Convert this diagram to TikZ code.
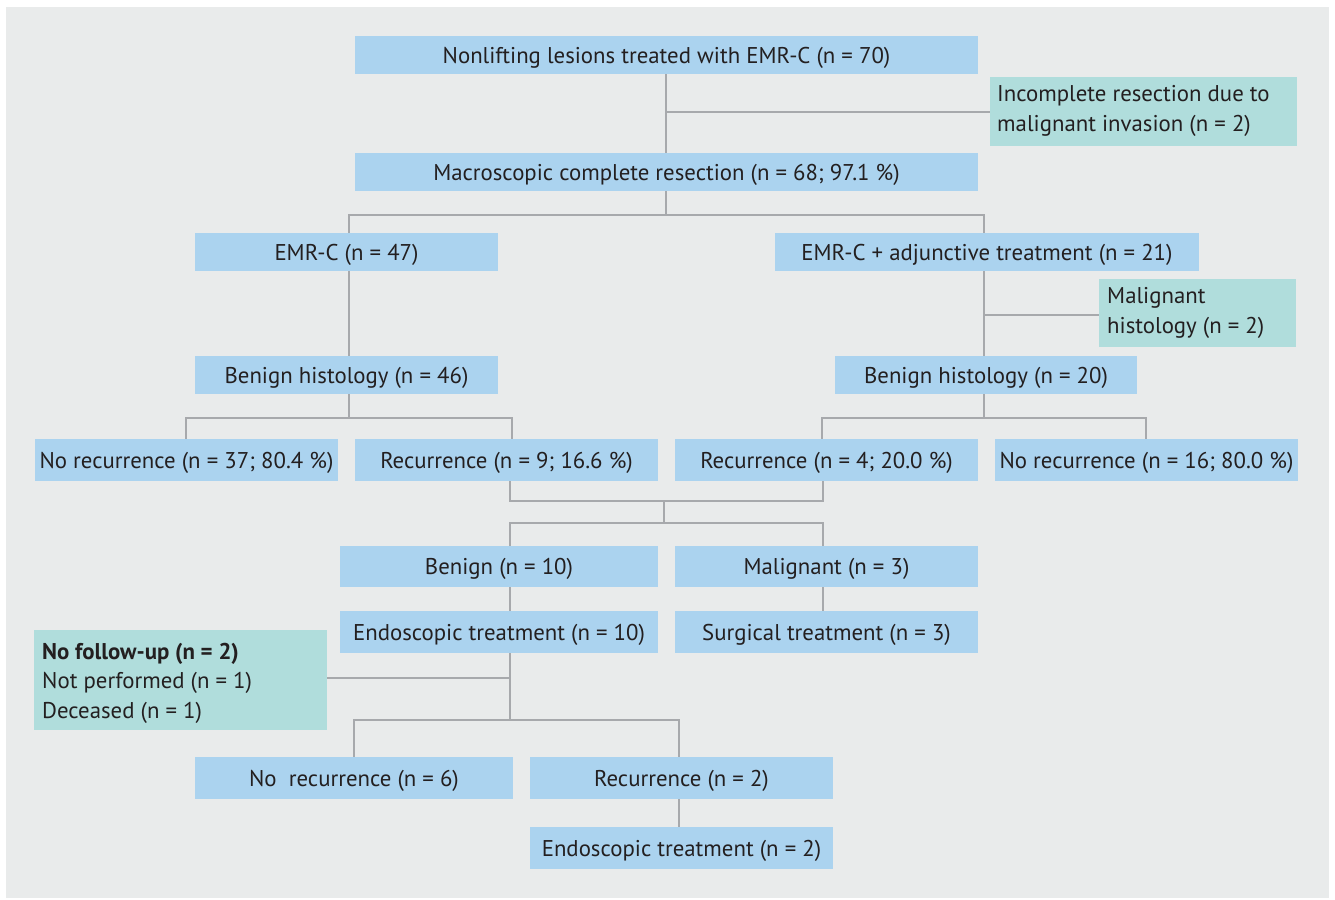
\documentclass[tikz,border=0pt]{standalone}
\usepackage{fontspec}
\setmainfont{PT Sans}
\usetikzlibrary{calc}
\definecolor{bgc}{RGB}{233,235,235}
\definecolor{boxb}{RGB}{171,211,239}
\definecolor{boxt}{RGB}{176,221,220}
\definecolor{lnc}{RGB}{167,169,172}
\definecolor{txc}{RGB}{35,31,32}
\begin{document}
\begin{tikzpicture}[x=1pt,y=-1pt,
  bb/.style={fill=boxb,draw=none,inner sep=0pt,text=txc,font=\fontsize{22.8}{30}\selectfont,anchor=center,text height=16.8pt,text depth=0pt},
  tb/.style={fill=boxt,draw=none,inner sep=0pt,anchor=center},
  tt/.style={text=txc,anchor=west,inner sep=0pt,align=left,font=\fontsize{22.8}{30}\selectfont},
  ln/.style={draw=lnc,line width=2pt}]
\useasboundingbox (0,0) rectangle (1335,899);
\fill[white] (0,0) rectangle (1335,899);
\fill[bgc] (6,7) rectangle (1329,898);
% nodes
\node[bb,minimum width=623,minimum height=38] (n1) at (666.5,55) {Nonlifting lesions treated with EMR-C (n = 70)};
\node[tb,minimum width=307,minimum height=69] (inc) at (1143.5,111.5) {};
\node[tt] (inct) at (997,111) {Incomplete resection due to\\malignant invasion (n = 2)};
\node[bb,minimum width=623,minimum height=38] (mac) at (666.5,172) {Macroscopic complete resection (n = 68; 97.1 \%)};
\node[bb,minimum width=303,minimum height=38] (emr) at (346.5,252) {EMR-C (n = 47)};
\node[bb,minimum width=424,minimum height=38] (emra) at (987,252) {EMR-C + adjunctive treatment (n = 21)};
\node[tb,minimum width=197,minimum height=68] (malh) at (1197.5,313) {};
\node[tt] (malht) at (1107,312.5) {Malignant\\histology (n = 2)};
\node[bb,minimum width=303,minimum height=38] (ben46) at (346.5,375) {Benign histology (n = 46)};
\node[bb,minimum width=302,minimum height=38] (ben20) at (986,375) {Benign histology (n = 20)};
\node[bb,minimum width=303,minimum height=42] (nr37) at (186.5,460) {No recurrence (n = 37; 80.4 \%)};
\node[bb,minimum width=303,minimum height=42] (r9) at (506.5,460) {Recurrence (n = 9; 16.6 \%)};
\node[bb,minimum width=303,minimum height=42] (r4) at (826.5,460) {Recurrence (n = 4; 20.0 \%)};
\node[bb,minimum width=303,minimum height=42] (nr16) at (1146.5,460) {No recurrence (n = 16; 80.0 \%)};
\node[bb,minimum width=318,minimum height=41] (ben10) at (499,566.5) {Benign (n = 10)};
\node[bb,minimum width=303,minimum height=41] (mal3) at (826.5,566.5) {Malignant (n = 3)};
\node[bb,minimum width=318,minimum height=42] (endo10) at (499,632) {Endoscopic treatment (n = 10)};
\node[bb,minimum width=303,minimum height=42] (surg3) at (826.5,632) {Surgical treatment (n = 3)};
\node[tb,minimum width=293,minimum height=100] (nofu) at (180.5,680) {};
\node[tt,font=\fontsize{22.8}{29.5}\selectfont] (nofut) at (42,683) {\textbf{No follow-up (n = 2)}\\Not performed (n = 1)\\Deceased (n = 1)};
\node[bb,minimum width=318,minimum height=42] (nr6) at (354,778) {No\ \ recurrence (n = 6)};
\node[bb,minimum width=303,minimum height=42] (r2) at (681.5,778) {Recurrence (n = 2)};
\node[bb,minimum width=303,minimum height=42] (endo2) at (681.5,848) {Endoscopic treatment (n = 2)};
% junction coordinates
\coordinate (c0) at (666,112);
\coordinate (jA) at (349,215);
\coordinate (jB) at (984,215);
\coordinate (jC) at (984,315);
\coordinate (jD) at (186,418);
\coordinate (jE) at (512,418);
\coordinate (jF) at (822,418);
\coordinate (jG) at (1146,418);
\coordinate (jH) at (510,501);
\coordinate (jI) at (823,501);
\coordinate (jJ) at (664,523);
\coordinate (jK) at (510,523);
\coordinate (jL) at (823,523);
\coordinate (jM) at (510,678);
\coordinate (jN) at (354,720);
\coordinate (jO) at (679,720);
% connectors
\draw[ln] (n1.south -| c0) -- (mac.north -| c0);
\draw[ln] (inc.west) -- (inc.west -| c0);
\draw[ln] (mac.south -| c0) -- (c0 |- jA);
\draw[ln] (emr.north -| jA) -- (jA) -- (jB) -- (emra.north -| jB);
\draw[ln] (emr.south -| jA) -- (ben46.north -| jA);
\draw[ln] (emra.south -| jB) -- (ben20.north -| jB);
\draw[ln] (malh.west |- jC) -- (jC);
\draw[ln] (ben46.south -| jA) -- (jA |- jD);
\draw[ln] (nr37.north -| jD) -- (jD) -- (jE) -- (r9.north -| jE);
\draw[ln] (ben20.south -| jB) -- (jB |- jF);
\draw[ln] (r4.north -| jF) -- (jF) -- (jG) -- (nr16.north -| jG);
\draw[ln] (r9.south -| jH) -- (jH) -- (jI) -- (r4.south -| jI);
\draw[ln] (jJ |- jH) -- (jJ);
\draw[ln] (ben10.north -| jK) -- (jK) -- (jL) -- (mal3.north -| jL);
\draw[ln] (ben10.south -| jK) -- (endo10.north -| jK);
\draw[ln] (mal3.south -| jL) -- (surg3.north -| jL);
\draw[ln] (endo10.south -| jM) -- (jM |- jN);
\draw[ln] (nofu.east |- jM) -- (jM);
\draw[ln] (nr6.north -| jN) -- (jN) -- (jO) -- (r2.north -| jO);
\draw[ln] (r2.south -| jO) -- (endo2.north -| jO);
\end{tikzpicture}
\end{document}
